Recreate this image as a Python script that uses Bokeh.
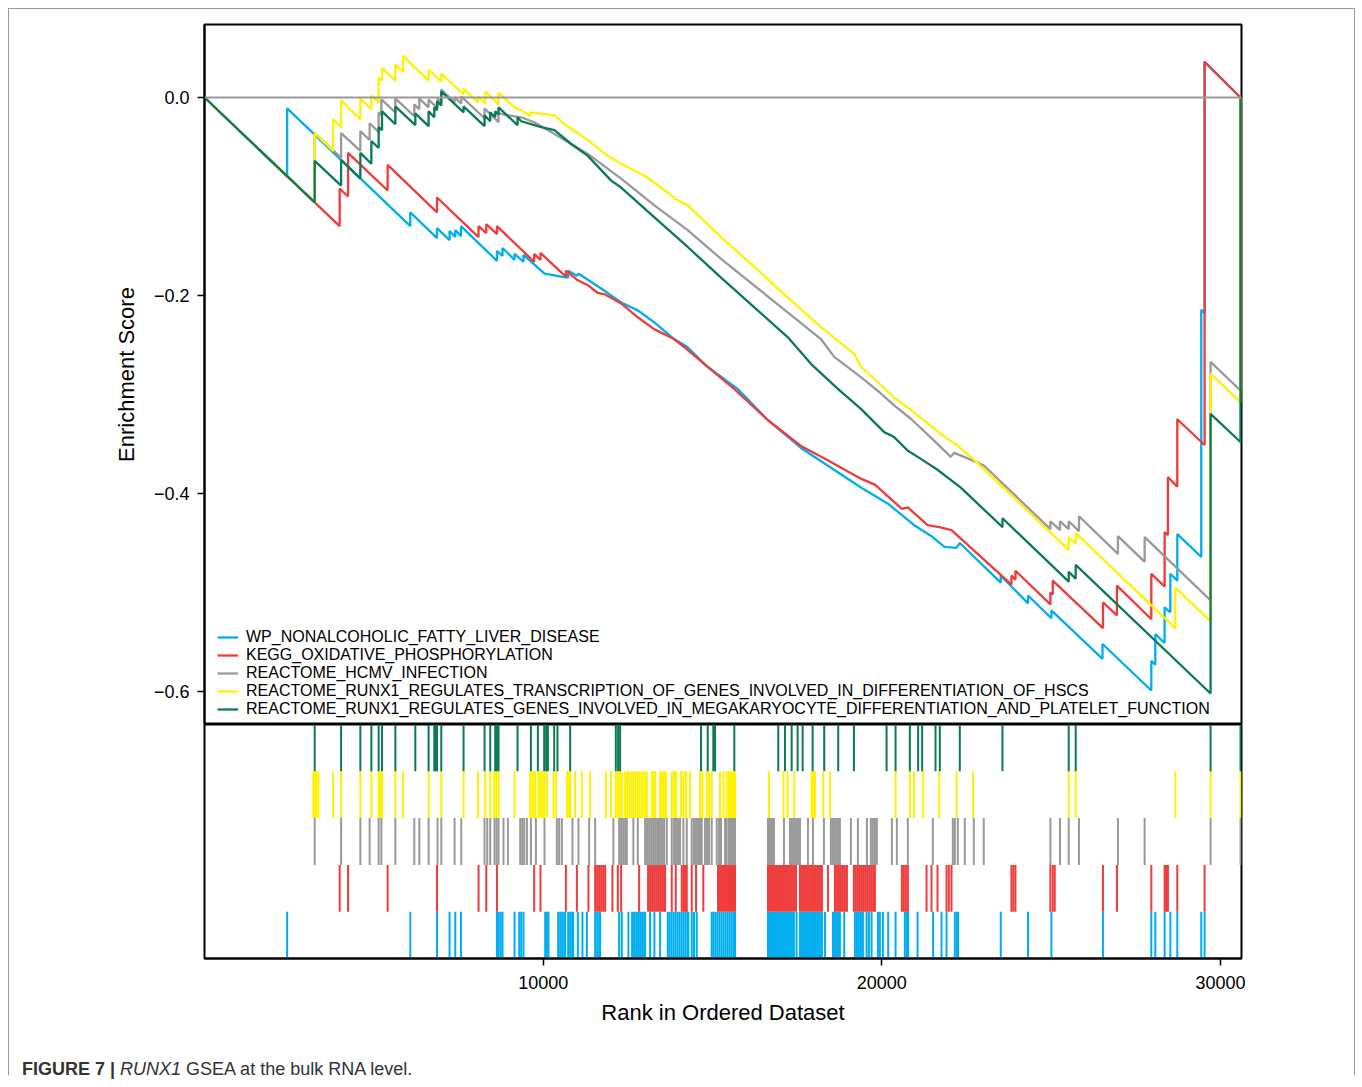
from bokeh.plotting import figure
from bokeh.layouts import column
from bokeh.models import (Range1d, FixedTicker, CustomJSTickFormatter, Span, Legend,
                          LegendItem, Div)
from bokeh.embed import file_html
from bokeh.resources import INLINE

FONT = "Liberation Sans"

# ---------------- data ----------------
set_names = [
    "WP_NONALCOHOLIC_FATTY_LIVER_DISEASE",
    "KEGG_OXIDATIVE_PHOSPHORYLATION",
    "REACTOME_HCMV_INFECTION",
    "REACTOME_RUNX1_REGULATES_TRANSCRIPTION_OF_GENES_INVOLVED_IN_DIFFERENTIATION_OF_HSCS",
    "REACTOME_RUNX1_REGULATES_GENES_INVOLVED_IN_MEGAKARYOCYTE_DIFFERENTIATION_AND_PLATELET_FUNCTION",
]
set_colors = ["#00AEEF", "#EE3B3B", "#999999", "#FFF200", "#0B7A55"]

x_ticks = [10000, 20000, 30000]
y_ticks = [0.0, -0.2, -0.4, -0.6]

# running enrichment score (rank, ES) vertices
wp_x = [0, 2440, 2440, 6077, 6077, 6865, 6865, 7236, 7236, 7405, 7405, 7573, 7573, 8635, 8635,
        8800, 8800, 9154, 9154, 9419, 9419, 10039, 10532, 10738, 10738, 10995, 11050, 11712, 12302,
        12794, 13275, 13865, 14258, 14848, 15734, 16638, 17612, 18320, 19382, 20170, 20955, 21500,
        21850, 22200, 22302, 23512, 23512, 24317, 24317, 25007, 25007, 26515, 26515, 27957, 27957,
        28075, 28075, 28350, 28350, 28518, 28518, 28724, 28724, 29432, 29432, 29530, 29530, 30590]
wp_y = [0, -0.080, -0.011, -0.130, -0.116, -0.142, -0.132, -0.144, -0.135, -0.141, -0.134, -0.140,
        -0.130, -0.165, -0.155, -0.160, -0.152, -0.164, -0.158, -0.166, -0.159, -0.178, -0.181,
        -0.182, -0.175, -0.180, -0.178, -0.193, -0.207, -0.215, -0.227, -0.244, -0.252, -0.272,
        -0.294, -0.326, -0.354, -0.370, -0.394, -0.410, -0.432, -0.444, -0.454, -0.455, -0.450,
        -0.490, -0.483, -0.511, -0.503, -0.526, -0.518, -0.567, -0.552, -0.599, -0.569, -0.573,
        -0.542, -0.551, -0.515, -0.520, -0.481, -0.488, -0.441, -0.464, -0.2145, -0.218, 0.036, 0.0]

kegg_x = [0, 3991, 3991, 4239, 4239, 5407, 5407, 6865, 6865, 8092, 8092, 8319, 8319, 8635, 8635,
          9735, 9735, 9921, 9921, 10670, 10670, 10995, 11337, 11594, 11830, 12302, 12794, 13275,
          13865, 14160, 14859, 15665, 16638, 17612, 18320, 19382, 19795, 20591, 20768, 21350,
          21700, 22057, 23827, 23827, 23945, 23945, 24977, 24977, 25046, 25046, 26529, 26529,
          26942, 26942, 27957, 27957, 28350, 28350, 28447, 28447, 28724, 28724, 29530, 29530, 30590]
kegg_y = [0, -0.130, -0.092, -0.100, -0.056, -0.094, -0.068, -0.116, -0.101, -0.141, -0.130,
          -0.137, -0.128, -0.138, -0.130, -0.166, -0.158, -0.164, -0.157, -0.181, -0.175, -0.184,
          -0.190, -0.197, -0.199, -0.208, -0.222, -0.234, -0.244, -0.252, -0.272, -0.295, -0.326,
          -0.352, -0.365, -0.385, -0.391, -0.4155, -0.414, -0.432, -0.434, -0.437, -0.492, -0.483,
          -0.487, -0.478, -0.512, -0.500, -0.502, -0.488, -0.536, -0.510, -0.523, -0.493, -0.527,
          -0.481, -0.494, -0.439, -0.442, -0.3835, -0.393, -0.325, -0.351, 0.036, 0.0]

hcmv_x = [0, 3254, 3254, 4033, 4033, 4602, 4602, 4876, 4876, 5142, 5142, 5222, 5222, 5635, 5635,
          6195, 6195, 6343, 6343, 6617, 6617, 6882, 6882, 6992, 6992, 7384, 7384, 7582, 7582,
          8269, 8269, 8682, 8682, 8959, 9352, 9735, 10335, 10827, 11319, 12302, 13285, 14268,
          15252, 16235, 17219, 18202, 18594, 19382, 19874, 20364, 20857, 21496, 22036, 22134,
          22430, 22774, 23020, 24977, 24977, 25261, 25261, 25518, 25518, 25821, 25821, 26972,
          26972, 27760, 27760, 29707, 29707, 30590, 30590]
hcmv_y = [0, -0.106, -0.036, -0.061, -0.036, -0.054, -0.034, -0.043, -0.026, -0.035, -0.015,
          -0.018, -0.002, -0.015, -0.001, -0.019, -0.007, -0.012, -0.001, -0.010, -0.002, -0.011,
          -0.001, -0.005, 0.008, -0.005, 0.000, -0.006, 0.001, -0.021, -0.011, -0.025, -0.016,
          -0.018, -0.020, -0.025, -0.037, -0.047, -0.057, -0.082, -0.109, -0.134, -0.163, -0.190,
          -0.217, -0.244, -0.262, -0.2825, -0.296, -0.311, -0.3245, -0.345, -0.363, -0.359,
          -0.363, -0.368, -0.372, -0.436, -0.428, -0.437, -0.428, -0.436, -0.428, -0.438, -0.423,
          -0.461, -0.443, -0.469, -0.444, -0.508, -0.267, -0.296, 0.0]

hsc_x = [0, 3254, 3254, 3797, 3797, 4033, 4033, 4602, 4602, 4927, 4927, 5142, 5142, 5242, 5242,
         5635, 5635, 5862, 5862, 6617, 6617, 6992, 6992, 7649, 7649, 8074, 8074, 8290, 8290, 8682,
         8682, 9154, 9352, 9617, 9617, 10335, 10630, 11319, 11909, 12302, 12990, 13285, 13974,
         14268, 15252, 16235, 17219, 18202, 19185, 19382, 20364, 20954, 21742, 22233, 22724,
         25518, 25518, 25724, 25724, 28665, 28665, 29707, 29707, 30590, 30590]
hsc_y = [0, -0.106, -0.036, -0.054, -0.022, -0.030, -0.003, -0.022, -0.001, -0.012, 0.002, -0.005,
         0.020, 0.017, 0.030, 0.017, 0.033, 0.026, 0.042, 0.017, 0.028, 0.016, 0.024, 0.003, 0.009,
         -0.005, 0.001, -0.006, 0.006, -0.007, 0.005, -0.010, -0.013, -0.019, -0.015, -0.018,
         -0.027, -0.043, -0.059, -0.067, -0.079, -0.086, -0.104, -0.109, -0.141, -0.171, -0.202,
         -0.232, -0.259, -0.2717, -0.303, -0.318, -0.340, -0.3515, -0.366, -0.457, -0.444, -0.451,
         -0.440, -0.536, -0.495, -0.529, -0.279, -0.308, 0.0]

mk_x = [0, 3254, 3254, 4033, 4033, 4602, 4602, 4927, 4927, 5142, 5142, 5242, 5242, 5635, 5635,
        6225, 6225, 6617, 6617, 6785, 6785, 6865, 6865, 6992, 6992, 7649, 7649, 8269, 8269, 8437,
        8437, 8585, 8585, 8682, 8682, 9243, 9243, 9352, 9942, 10335, 10827, 11319, 12007, 12302,
        13285, 14268, 15252, 16235, 17219, 17906, 18694, 19382, 20069, 20364, 20759, 21152, 21644,
        22332, 23562, 23562, 25518, 25518, 25724, 25724, 29707, 29707, 30590, 30590]
mk_y = [0, -0.106, -0.064, -0.089, -0.063, -0.082, -0.056, -0.067, -0.044, -0.051, -0.030, -0.033,
        -0.014, -0.027, -0.009, -0.028, -0.016, -0.029, -0.014, -0.020, -0.010, -0.013, -0.004,
        -0.008, 0.006, -0.015, -0.009, -0.029, -0.018, -0.024, -0.015, -0.020, -0.014, -0.017,
        -0.010, -0.028, -0.020, -0.024, -0.030, -0.033, -0.047, -0.059, -0.084, -0.091, -0.121,
        -0.151, -0.182, -0.212, -0.242, -0.269, -0.294, -0.3145, -0.338, -0.343, -0.3566, -0.365,
        -0.376, -0.394, -0.434, -0.425, -0.489, -0.479, -0.486, -0.472, -0.602, -0.3195, -0.348, 0.0]

# hit positions (ranks) of each gene set
wp_hits = [2440, 6077, 6865, 7236, 7405, 7573, 8635, 8688, 8747, 8800, 9154, 9293, 9352, 9419,
           10060, 10109, 10157, 10443, 10502, 10561, 10620, 10650, 10738, 10797, 10856, 10886,
           11024, 11160, 11290, 11535, 11594, 11653, 11682, 12243, 12322, 12517, 12626, 12685,
           12744, 12803, 12862, 12921, 12980, 13010, 13157, 13284, 13452, 13679, 13732, 13791,
           13850, 13909, 13968, 14027, 14086, 14145, 14204, 14263, 14287, 14387, 14455, 14535,
           14977, 15030, 15089, 15148, 15207, 15266, 15325, 15384, 15443, 15502, 15561, 15620,
           15665, 16638, 16697, 16756, 16815, 16874, 16933, 16992, 17051, 17110, 17169, 17228,
           17287, 17346, 17405, 17484, 17582, 17641, 17700, 17759, 17818, 17877, 17936, 17995,
           18054, 18113, 18172, 18231, 18320, 18556, 18615, 18674, 18733, 18762, 18889, 19205,
           19264, 19323, 19382, 19441, 19550, 19618, 19697, 19883, 19942, 20031, 20187, 20405,
           20680, 20739, 20777, 21054, 21514, 21762, 21910, 22155, 22214, 22252, 23512, 24317,
           25007, 26529, 27957, 28075, 28350, 28518, 28724, 29432, 29530]
kegg_hits = [3991, 4239, 5407, 6865, 8092, 8319, 8635, 9735, 9921, 10670, 10995, 11337, 11535,
             11594, 11653, 11712, 11771, 11830, 12045, 12204, 12302, 12833, 13098, 13157, 13216,
             13275, 13334, 13393, 13452, 13511, 13570, 13600, 13797, 13915, 14092, 14145, 14190,
             14240, 14387, 14514, 14729, 15163, 15222, 15281, 15340, 15399, 15458, 15517, 15576,
             15635, 15665, 16638, 16697, 16756, 16815, 16874, 16933, 16992, 17051, 17110, 17169,
             17228, 17287, 17346, 17405, 17464, 17582, 17641, 17700, 17759, 17818, 17877, 17936,
             17995, 18054, 18113, 18172, 18231, 18408, 18615, 18674, 18733, 18792, 18851, 18910,
             18969, 19175, 19234, 19293, 19352, 19411, 19470, 19529, 19588, 19647, 19706, 19765,
             19795, 20591, 20650, 20709, 20768, 21320, 21467, 21644, 21910, 21978, 22057, 23827,
             23886, 23945, 24977, 25046, 25105, 26529, 26942, 27957, 28350, 28394, 28447, 28724,
             29530]
hcmv_hits = [3254, 4033, 4602, 4876, 5142, 5222, 5635, 6195, 6343, 6617, 6882, 6992, 7384, 7582,
             8269, 8349, 8437, 8564, 8623, 8682, 8829, 8959, 9322, 9381, 9440, 9520, 9638, 9785,
             10039, 10405, 10473, 10552, 10865, 11042, 11358, 11535, 12074, 12243, 12302, 12361,
             12420, 12470, 12664, 12794, 13010, 13069, 13128, 13187, 13246, 13305, 13364, 13403,
             13452, 13511, 13570, 13650, 13797, 13865, 13924, 13983, 14042, 14140, 14240, 14387,
             14455, 14514, 14573, 14632, 14682, 14780, 14839, 14898, 14977, 15125, 15193, 15252,
             15370, 15420, 15488, 15547, 15606, 15665, 16638, 16697, 16756, 16815, 17110, 17287,
             17346, 17405, 17464, 17523, 17582, 17818, 17966, 18290, 18497, 18556, 18615, 18674,
             18733, 18762, 19087, 19293, 19559, 19677, 19736, 19795, 19854, 20296, 20444, 20768,
             21506, 22096, 22155, 22243, 22450, 22715, 23010, 24977, 25261, 25518, 25821, 26972,
             27760, 29707, 30592]
hsc_hits = [3216, 3260, 3304, 3363, 3797, 4033, 4602, 4927, 5142, 5192, 5242, 5635, 5862, 6617,
            6992, 7649, 8074, 8290, 8437, 8555, 8614, 8682, 9154, 9617, 9676, 9735, 9765, 9862,
            9912, 9971, 10030, 10109, 10304, 10375, 10700, 10753, 10797, 10945, 11142, 11387,
            11850, 12007, 12145, 12204, 12263, 12322, 12420, 12479, 12538, 12617, 12670, 12729,
            12788, 12847, 12906, 12965, 13024, 13060, 13207, 13260, 13305, 13452, 13511, 13570,
            13629, 13797, 13865, 13924, 14072, 14145, 14219, 14337, 14632, 14700, 14829, 14898,
            14977, 15222, 15320, 15420, 15488, 15547, 15606, 15665, 16668, 17091, 17219, 17414,
            17927, 17974, 18025, 18269, 18467, 20405, 20827, 20954, 21219, 21691, 22205, 22694,
            25518, 25724, 28665, 29707, 30592]
mk_hits = [3254, 4033, 4602, 4927, 5142, 5242, 5635, 6225, 6617, 6785, 6829, 6865, 6992, 7649,
           8269, 8437, 8585, 8635, 8682, 9243, 9638, 9844, 10030, 10089, 10139, 10325, 10422,
           10797, 12145, 12213, 12272, 14662, 14859, 15024, 15075, 15644, 16942, 17140, 17337,
           17514, 17662, 17957, 18299, 18712, 19175, 20140, 20405, 20827, 21072, 21190, 21585,
           21712, 22302, 23562, 25518, 25724, 29707, 30592]

es_x = [wp_x, kegg_x, hcmv_x, hsc_x, mk_x]
es_y = [wp_y, kegg_y, hcmv_y, hsc_y, mk_y]
hits = [wp_hits, kegg_hits, hcmv_hits, hsc_hits, mk_hits]
row_of_set = [0, 1, 2, 3, 4]          # rug row (0 = bottom) for each set

# ---------------- figures ----------------
W = 1362
LEFT, RIGHT = 204, 121
x_range = Range1d(0, 30620)


def style_axis(ax):
    ax.axis_line_color = "black"
    ax.axis_line_width = 2
    ax.major_tick_line_color = "black"
    ax.major_tick_line_width = 1.5
    ax.major_tick_out = 7
    ax.major_tick_in = 0
    ax.minor_tick_line_color = None
    ax.major_label_text_font = FONT
    ax.major_label_text_font_size = "18px"
    ax.major_label_text_color = "black"
    ax.axis_label_text_font = FONT
    ax.axis_label_text_font_size = "22px"
    ax.axis_label_text_font_style = "normal"
    ax.axis_label_text_color = "black"


# top panel: running enrichment score
top = figure(width=W, height=724, x_range=x_range, y_range=Range1d(-0.6333, 0.0737),
             output_backend="svg", toolbar_location=None, x_axis_location=None,
             min_border_left=LEFT, min_border_right=RIGHT, min_border_top=24, min_border_bottom=0)
top.grid.visible = False
top.outline_line_color = "black"
top.outline_line_width = 2
top.background_fill_color = "white"
top.border_fill_color = None
style_axis(top.yaxis[0])
top.yaxis.ticker = FixedTicker(ticks=y_ticks)
top.yaxis.formatter = CustomJSTickFormatter(
    code="return Math.abs(tick) < 1e-9 ? '0.0' : '\u2212' + Math.abs(tick).toFixed(1);")
top.yaxis.major_label_standoff = 8
top.yaxis.axis_label = "Enrichment Score"
top.yaxis.axis_label_standoff = 12

top.add_layout(Span(location=0, dimension="width", line_color="#999999", line_width=2))

items = []
for i in range(5):
    r = top.line(es_x[i], es_y[i], line_color=set_colors[i], line_width=2.3)
    items.append(LegendItem(label=set_names[i], renderers=[r]))

legend = Legend(items=items, location=(13, 6), orientation="vertical",
                background_fill_alpha=0, border_line_alpha=0, padding=0, margin=0, spacing=0,
                label_text_font=FONT, label_text_font_size="16px", label_text_color="black",
                label_height=18, glyph_height=18, glyph_width=21, label_standoff=8)
top.add_layout(legend)

# bottom panel: hit positions
bottom = figure(width=W, height=321, x_range=x_range, y_range=Range1d(0, 5),
                output_backend="svg", toolbar_location=None, y_axis_location=None,
                min_border_left=LEFT, min_border_right=RIGHT, min_border_top=0,
                min_border_bottom=87)
bottom.grid.visible = False
bottom.outline_line_color = "black"
bottom.outline_line_width = 2
bottom.background_fill_color = "white"
bottom.border_fill_color = None
style_axis(bottom.xaxis[0])
bottom.xaxis.ticker = FixedTicker(ticks=x_ticks)
bottom.xaxis.major_label_standoff = 10
bottom.xaxis.axis_label = "Rank in Ordered Dataset"
bottom.xaxis.axis_label_standoff = 8

for i in range(5):
    hx = hits[i]
    r0 = row_of_set[i]
    bottom.segment(x0=hx, y0=[r0] * len(hx), x1=hx, y1=[r0 + 1] * len(hx),
                   line_color=set_colors[i], line_width=2)

caption = Div(
    text=('<div style="font-family:\'Liberation Sans\',Arial,sans-serif;font-size:18px;'
          'color:#333333;line-height:21px;padding:9px 0 0 17px;white-space:nowrap;">'
          '<b>FIGURE 7 |</b> <i>RUNX1</i> GSEA at the bulk RNA level.</div>'),
    width=W - 10, height=32, styles={"overflow": "visible"})

# thin grey frame around the whole figure (top, left and right edges)
frame_bg = ("linear-gradient(#999999,#999999) 8px 8px / 1347px 1px no-repeat, "
            "linear-gradient(#999999,#999999) 8px 8px / 1px 1067px no-repeat, "
            "linear-gradient(#999999,#999999) 1354px 8px / 1px 1067px no-repeat, white")

layout = column(top, bottom, caption, spacing=0, styles={"background": frame_bg})

open("out.html", "w").write(file_html(layout, INLINE))
